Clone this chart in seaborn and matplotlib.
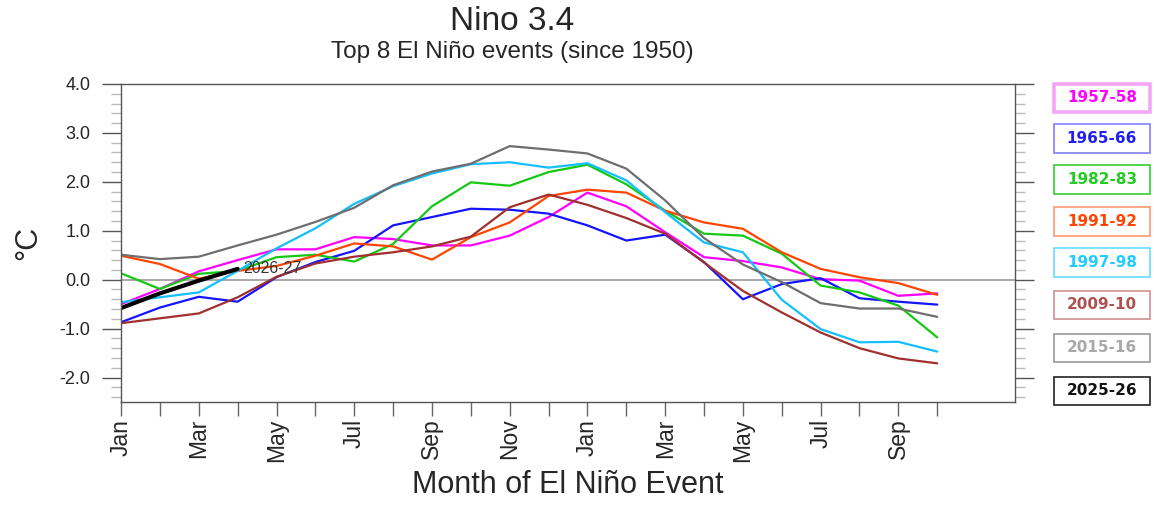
import numpy as np
import pandas as pd
import seaborn as sns
import matplotlib.pyplot as plt
from matplotlib.patches import Rectangle

# month axis runs Jan (year 0) .. Oct (year 1)
month_names = ['Jan', 'Feb', 'Mar', 'Apr', 'May', 'Jun', 'Jul', 'Aug', 'Sep', 'Oct', 'Nov', 'Dec',
               'Jan', 'Feb', 'Mar', 'Apr', 'May', 'Jun', 'Jul', 'Aug', 'Sep', 'Oct']

events = ['1957-58', '1965-66', '1982-83', '1991-92', '1997-98', '2009-10', '2015-16']

nino_1957 = [-0.50, -0.19, 0.17, 0.40, 0.62, 0.62, 0.87, 0.83, 0.70, 0.70, 0.90,
             1.28, 1.78, 1.50, 0.97, 0.46, 0.38, 0.25, 0.01, -0.02, -0.33, -0.28]
nino_1965 = [-0.87, -0.57, -0.35, -0.45, 0.05, 0.36, 0.59, 1.11, 1.28, 1.45, 1.43,
             1.35, 1.11, 0.80, 0.92, 0.36, -0.40, -0.09, 0.03, -0.38, -0.45, -0.51]
nino_1982 = [0.13, -0.19, 0.12, 0.18, 0.46, 0.51, 0.37, 0.73, 1.50, 1.99, 1.92,
             2.20, 2.35, 1.95, 1.41, 0.94, 0.90, 0.53, -0.12, -0.26, -0.53, -1.18]
nino_1991 = [0.49, 0.32, 0.02, 0.18, 0.28, 0.49, 0.74, 0.68, 0.41, 0.87, 1.17,
             1.71, 1.84, 1.78, 1.41, 1.17, 1.04, 0.56, 0.22, 0.05, -0.07, -0.31]
nino_1997 = [-0.46, -0.36, -0.26, 0.18, 0.64, 1.05, 1.55, 1.91, 2.17, 2.36, 2.40,
             2.29, 2.38, 2.03, 1.38, 0.76, 0.56, -0.41, -1.01, -1.28, -1.27, -1.47]
nino_2009 = [-0.89, -0.79, -0.69, -0.36, 0.06, 0.33, 0.47, 0.56, 0.68, 0.88, 1.48,
             1.74, 1.53, 1.26, 0.94, 0.35, -0.23, -0.67, -1.08, -1.40, -1.61, -1.71]
nino_2015 = [0.51, 0.42, 0.47, 0.70, 0.92, 1.18, 1.47, 1.93, 2.21, 2.37, 2.73,
             2.66, 2.58, 2.27, 1.62, 0.85, 0.31, -0.05, -0.48, -0.59, -0.59, -0.76]

current_name = '2025-26'
current_label = '2026-27'
nino_current = [-0.58, -0.28, -0.02, 0.22]

line_colors = ['#FF00FF', '#1414FF', '#14C814', '#FF4500', '#14BEFF', '#A0302F', '#6E6E6E']
legend_text = ['#FF00FF', '#2020EE', '#22CC22', '#FF4500', '#22CCFF', '#B05050', '#A8A8A8', '#111111']
legend_edge = ['#F4A6F4', '#8080FF', '#33CC33', '#FF9970', '#66DDFF', '#D09090', '#999999', '#222222']

series = [nino_1957, nino_1965, nino_1982, nino_1991, nino_1997, nino_2009, nino_2015]
df = pd.concat([pd.DataFrame({'month': np.arange(len(v)), 'anom': v, 'event': e})
                for e, v in zip(events, series)], ignore_index=True)

sns.set_theme(style='white')
plt.rcParams['font.family'] = ['Liberation Sans', 'DejaVu Sans']

fig = plt.figure(figsize=(11.54, 5.05), dpi=100)
ax = fig.add_axes([0.1049, 0.204, 0.7746, 0.6297])

ax.axhline(0, color='#9a9a9a', lw=1.2, zorder=1)
sns.lineplot(data=df, x='month', y='anom', hue='event', palette=line_colors,
             linewidth=1.6, legend=False, errorbar=None, ax=ax)
sns.lineplot(x=np.arange(len(nino_current)), y=nino_current, color='black',
             linewidth=3.0, ax=ax)
ax.text(len(nino_current) - 1 + 0.15, nino_current[-1], current_label,
        fontsize=11.5, color='#333333', va='center', ha='left')

ax.set_xlim(0, 23)
ax.set_ylim(-2.5, 4.0)

ax.set_xticks(np.arange(len(month_names)))
ax.set_xticklabels([m if i % 2 == 0 else '' for i, m in enumerate(month_names)],
                   rotation=90, fontsize=16.5)
ax.set_yticks(np.arange(-2, 4.1, 1.0))
ax.set_yticklabels([f'{v:.1f}' for v in np.arange(-2, 4.1, 1.0)], fontsize=13)
ax.set_yticks(np.arange(-2.4, 4.0, 0.2), minor=True)

ax.tick_params(axis='y', which='major', direction='out', length=14, width=1,
               color='#555555', pad=8, left=True, right=True)
ax.tick_params(axis='y', which='minor', direction='out', length=7, width=1,
               color='#bbbbbb', left=True, right=True)
ax.tick_params(axis='x', which='major', direction='out', length=10, width=1,
               color='#666666', pad=2, bottom=True)

for s in ax.spines.values():
    s.set_color('#555555')
    s.set_linewidth(1)

ax.set_xlabel('Month of El Niño Event', fontsize=22, labelpad=6)
ax.set_ylabel('°C', fontsize=22, labelpad=12)

fig.text(0.444, 0.958, 'Nino 3.4', fontsize=24, ha='center', va='center')
fig.text(0.444, 0.898, 'Top 8 El Niño events (since 1950)', fontsize=17.5,
         ha='center', va='center')

# legend boxes on the right
W, H = 1154, 505
names = events + [current_name]
box_y = [98, 138.5, 179.5, 221.5, 262.5, 304.5, 348, 390.5]
for i, name in enumerate(names):
    cx, cy = 1102, box_y[i]
    lw = 2.6 if i == 0 else 1.2
    fig.patches.append(Rectangle(((cx - 48) / W, 1 - (cy + 14) / H), 96 / W, 28 / H,
                                 transform=fig.transFigure, fill=False,
                                 edgecolor=legend_edge[i], linewidth=lw))
    fig.text(cx / W, 1 - cy / H, name, fontsize=11, fontweight='bold',
             family='DejaVu Sans', color=legend_text[i], ha='center', va='center')

fig.savefig('out.png', dpi=100)
